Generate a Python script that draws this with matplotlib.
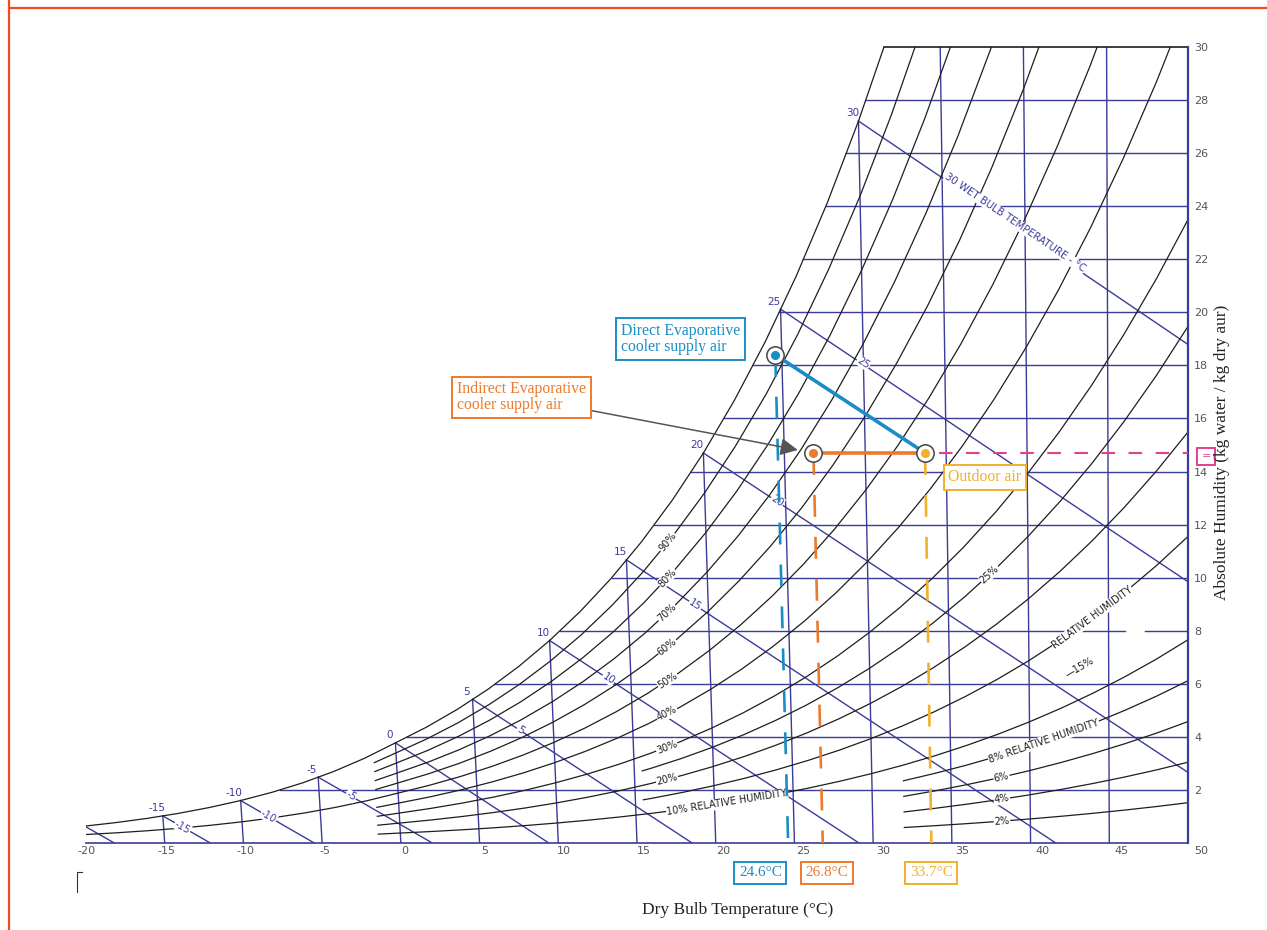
import numpy as np
import matplotlib.pyplot as plt

# saturation vapour pressure in kPa (over ice below 0 degC)
sat_temp = [-20, -18, -16, -14, -12, -10, -8, -6, -4, -2, 0, 2, 4, 6, 8, 10, 12, 14, 16, 18,
            20, 22, 24, 26, 28, 30, 32, 34, 36, 38, 40, 42, 44, 46, 48, 50]
sat_press = [0.1035, 0.1252, 0.1510, 0.1815, 0.2176, 0.2600, 0.3098, 0.3681, 0.4371, 0.5177,
             0.6112, 0.7060, 0.8135, 0.9353, 1.0729, 1.2282, 1.4028, 1.5990, 1.8188, 2.0647,
             2.3392, 2.6452, 2.9856, 3.3637, 3.7828, 4.2467, 4.7592, 5.3247, 5.9479, 6.6328,
             7.3851, 8.2096, 9.1112, 10.0954, 11.1694, 12.3440]
P_ATM = 101.325

# relative humidity curves (%) and the dry bulb where each one begins
rh_levels = [2, 4, 6, 8, 10, 15, 20, 25, 30, 40, 50, 60, 70, 80, 90, 100]
rh_start = [32, 32, 32, 32, -1.4, 15.5, -1.4, 15.5, -1.4, -1.4, -20, -1.4, -1.4, -1.4, -1.4, -20]

rh_label_level = [90, 80, 70, 60, 50, 40, 30, 20, 10, 25, 15, 8, 6, 4, 2]
rh_label_temp = [17.6, 17.5, 17.4, 17.35, 17.3, 17.2, 17.1, 17.05, 20.8, 37.6, 44.0, 40.9, 38.2, 38.2, 38.2]
rh_label_text = ['90%', '80%', '70%', '60%', '50%', '40%', '30%', '20%', '10% RELATIVE HUMIDITY',
                 '25%', 'RELATIVE HUMIDITY', '8% RELATIVE HUMIDITY', '6%', '4%', '2%']

dry_bulb_lines = [-15, -10, -5, 0, 5, 10, 15, 20, 25, 30, 35, 40, 45]
humidity_lines = [2, 4, 6, 8, 10, 12, 14, 16, 18, 20, 22, 24, 26, 28]

# wet bulb lines: saturation temperature and dry bulb where they reach zero humidity
wb_temps = [-20, -15, -10, -5, 0, 5, 10, 15, 20, 25, 30]
wb_zero = [-18.2, -12.1, -5.5, 2.0, 9.4, 18.5, 29.1, 41.6, 56.8, 74.8, 96.7]
wb_label_wb = [-15, -10, -5, 5, 10, 15, 20, 25, 30]
wb_label_temp = [-13.8, -8.3, -3.0, 7.9, 13.6, 19.2, 24.5, 30.0, 39.4]
wb_label_text = ['-15', '-10', '-5', '5', '10', '15', '20', '25', '30 WET BULB TEMPERATURE - °C']

x_ticks = [-20, -15, -10, -5, 0, 5, 10, 15, 20, 25, 30, 35, 40, 45, 50]
y_ticks = [2, 4, 6, 8, 10, 12, 14, 16, 18, 20, 22, 24, 26, 28, 30]

# air states (dry bulb degC, humidity g/kg)
state_names = ['Direct Evaporative\ncooler supply air', 'Indirect Evaporative\ncooler supply air', 'Outdoor air']
state_temp = [24.6, 26.8, 33.7]
state_hum = [18.4, 14.7, 14.7]
state_colors = ['#1b8dc6', '#ec7a2c', '#f2b02c']
state_box_at = [(17.76, 19.0), (7.66, 16.8), (37.1, 13.78)]
temp_box_x = [22.84, 27.06, 33.70]

NAVY = '#3b3b99'
INK = '#1e1e1e'
PINK = '#e2408a'
SERIF = 'Liberation Serif'

# dry bulb lines fan out slightly, leaning left as humidity rises
SKEW = 0.0019
FAN_T = 48.0


def chart_x(t, w):
    t = np.asarray(t, dtype=float)
    w = np.asarray(w, dtype=float)
    return t - SKEW * (FAN_T - t) * w


def hum_ratio(t, rh=100.0):
    pv = rh / 100.0 * np.interp(t, sat_temp, sat_press)
    return 622.0 * pv / (P_ATM - pv)


sat_hum = hum_ratio(np.array(sat_temp, dtype=float))

fig = plt.figure(figsize=(12.67, 9.30), dpi=100)
ax = fig.add_axes([86 / 1267, 87 / 930, 1102 / 1267, 796 / 930])
ax.set_xlim(-20, 50)
ax.set_ylim(0, 30)


def screen_angle(p0, p1):
    a, b = ax.transData.transform([p0, p1])
    return np.degrees(np.arctan2(b[1] - a[1], b[0] - a[0]))


# humidity grid lines, from the saturation curve to the right edge
for w in humidity_lines:
    t0 = np.interp(w, sat_hum, sat_temp)
    if w == 8:
        # this one is broken near the right edge
        ax.plot([chart_x(t0, w), 46.0], [w, w], color=NAVY, lw=1.0, zorder=1)
        ax.plot([47.3, 50], [w, w], color=NAVY, lw=1.0, zorder=1)
    else:
        ax.plot([chart_x(t0, w), 50], [w, w], color=NAVY, lw=1.0, zorder=1)

# dry bulb lines
for t in dry_bulb_lines:
    top = min(hum_ratio(t), 30)
    ax.plot(chart_x([t, t], [0, top]), [0, top], color=NAVY, lw=1.0, zorder=1)

# wet bulb lines with their labels at the saturation curve
for twb, tz in zip(wb_temps, wb_zero):
    w0 = hum_ratio(twb)
    ax.plot(chart_x([twb, tz], [w0, 0]), [w0, 0], color=NAVY, lw=1.0, zorder=1)
    if twb > -20:
        ax.annotate(str(twb), (chart_x(twb, w0), w0), xytext=(-4.5, 5.5),
                    textcoords='offset points', ha='center', va='center',
                    fontsize=7.5, color=NAVY, zorder=4)

for twb, t, txt in zip(wb_label_wb, wb_label_temp, wb_label_text):
    w0 = hum_ratio(twb)
    tz = wb_zero[wb_temps.index(twb)]
    w = w0 * (tz - t) / (tz - twb)
    ang = screen_angle((chart_x(twb, w0), w0), (chart_x(tz, 0), 0))
    ax.text(chart_x(t, w), w, txt, rotation=ang, rotation_mode='anchor',
            ha='center', va='center', fontsize=7.3, color=NAVY, zorder=4,
            bbox=dict(fc='white', ec='none', pad=0.4))

# saturation and relative humidity curves
for level, start in zip(rh_levels, rh_start):
    ts = np.array([start] + [t for t in sat_temp if t > start], dtype=float)
    ws = hum_ratio(ts, level)
    ax.plot(chart_x(ts, ws), ws, color=INK, lw=0.9, zorder=2)

for level, t, txt in zip(rh_label_level, rh_label_temp, rh_label_text):
    w = hum_ratio(t, level)
    w_a, w_b = hum_ratio(t - 0.5, level), hum_ratio(t + 0.5, level)
    ang = screen_angle((chart_x(t - 0.5, w_a), w_a), (chart_x(t + 0.5, w_b), w_b))
    ax.text(chart_x(t, w), w, txt, rotation=ang, rotation_mode='anchor',
            ha='center', va='center', fontsize=7, color=INK, zorder=4,
            bbox=dict(fc='white', ec='none', pad=0.4))

ax.text(43.14, 6.6, '\u201415%', rotation=30, rotation_mode='anchor', ha='center',
        va='center', fontsize=7, color=INK, zorder=4)

# closing line along the top of the chart
t30 = np.interp(30, sat_hum, sat_temp)
ax.plot([chart_x(t30, 30), 50], [30, 30], color=INK, lw=1.2, clip_on=False, zorder=2)

# process lines between the air states
xs = chart_x(state_temp, state_hum)
ax.plot([xs[0], xs[2]], [state_hum[0], state_hum[2]], color=state_colors[0], lw=2.6,
        solid_capstyle='butt', zorder=5)
ax.plot([xs[1], xs[2]], [state_hum[1], state_hum[2]], color=state_colors[1], lw=2.6,
        solid_capstyle='butt', zorder=5)

# drop lines to the dry bulb axis
for t, w, c in zip(state_temp, state_hum, state_colors):
    ax.plot(chart_x([t, t], [w, 0]), [w, 0], color=c, lw=1.9,
            linestyle=(0, (8.3, 7.6)), zorder=5)
    ax.plot(chart_x(t, w), w, 'o', ms=12.5, mfc='white', mec='#444444', mew=1.1, zorder=6)
    ax.plot(chart_x(t, w), w, 'o', ms=5.5, mfc=c, mec=c, zorder=7)

# outdoor humidity carried across to the humidity axis
ax.plot([xs[2] + 0.9, 50], [state_hum[2], state_hum[2]], color=PINK, lw=1.5,
        linestyle=(0, (6.5, 6.5)), zorder=5)
ax.annotate('=', (1, state_hum[2]), xycoords=('axes fraction', 'data'),
            xytext=(13, -2.5), textcoords='offset points', ha='center', va='center',
            fontsize=8, color=PINK, annotation_clip=False,
            bbox=dict(boxstyle='square,pad=0.35', fc='white', ec=PINK, lw=1.4), zorder=8)

# state labels
box_kw = dict(ha='center', va='center', multialignment='left', fontsize=11.3,
              family=SERIF, linespacing=1.0, zorder=8)
ax.text(*state_box_at[0], state_names[0], color=state_colors[0],
        bbox=dict(boxstyle='square,pad=0.3', fc='white', ec=state_colors[0], lw=1.4), **box_kw)
ax.annotate(state_names[1], xy=(xs[1], state_hum[1]), xytext=state_box_at[1],
            color=state_colors[1],
            bbox=dict(boxstyle='square,pad=0.3', fc='white', ec=state_colors[1], lw=1.4),
            arrowprops=dict(arrowstyle='-|>,head_length=0.7,head_width=0.35',
                            mutation_scale=15, color='#555555', lw=1.1,
                            shrinkA=0, shrinkB=11.5), **box_kw)
ax.text(*state_box_at[2], state_names[2], color=state_colors[2],
        bbox=dict(boxstyle='square,pad=0.3', fc='white', ec=state_colors[2], lw=1.4), **box_kw)

for t, x, c in zip(state_temp, temp_box_x, state_colors):
    ax.text(x, -1.13, f'{t}°C', ha='center', va='center', fontsize=11, family=SERIF,
            color=c, bbox=dict(boxstyle='square,pad=0.3', fc='white', ec=c, lw=1.4))

# axes frame and tick labels
for side in ['top', 'left']:
    ax.spines[side].set_visible(False)
ax.spines['right'].set_color(NAVY)
ax.spines['right'].set_linewidth(1.6)
ax.spines['bottom'].set_color(NAVY)
ax.spines['bottom'].set_linewidth(1.2)
ax.set_xticks([])
ax.yaxis.tick_right()
ax.set_yticks(y_ticks)
ax.set_yticklabels([str(v) for v in y_ticks])
ax.tick_params(axis='y', length=0, pad=4.5, labelsize=8, labelcolor='#555555')
for t in x_ticks:
    ax.text(0.26 + 1.0119 * t, -0.12, str(t), ha='center', va='top', fontsize=8,
            color='#555555')

fig.text(738 / 1267, 1 - 910 / 930, 'Dry Bulb Temperature (°C)', ha='center', va='center',
         fontsize=12.5, family=SERIF, color='#222222')
fig.text(1222 / 1267, 1 - 452 / 930, 'Absolute Humidity (kg water / kg dry aur)', rotation=90,
         ha='center', va='center', fontsize=12.5, family=SERIF, color='#222222')

# page frame and corner mark
fig.add_artist(plt.Line2D([9 / 1267, 9 / 1267], [0, 1], color='#f04a22', lw=1.6))
fig.add_artist(plt.Line2D([9 / 1267, 1], [1 - 8 / 930, 1 - 8 / 930], color='#f04a22', lw=1.6))
fig.add_artist(plt.Line2D([77 / 1267, 77 / 1267, 82 / 1267],
                          [1 - 892 / 930, 1 - 872 / 930, 1 - 872 / 930], color='#333333', lw=0.8))

fig.savefig('out.png', dpi=100)
